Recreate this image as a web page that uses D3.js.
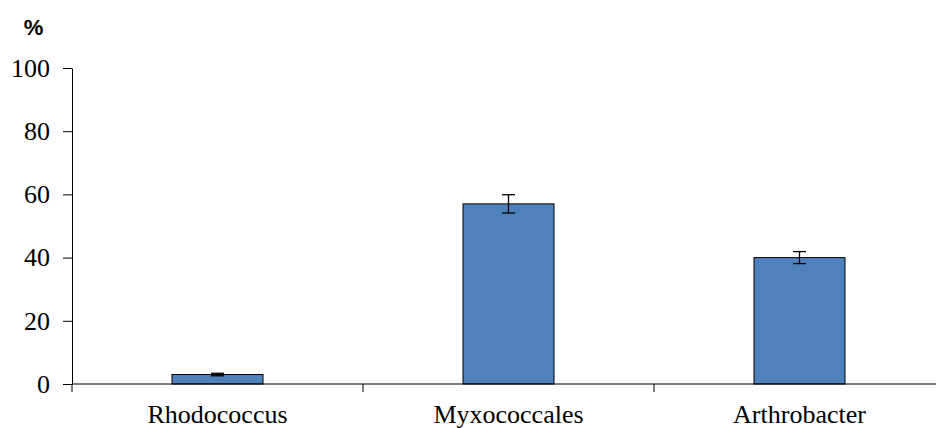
<!DOCTYPE html>
<html>
<head>
<meta charset="utf-8">
<script src="https://cdn.jsdelivr.net/npm/d3@7"></script>
<style>
  html, body { margin: 0; padding: 0; background: #fff; }
  svg { display: block; }
</style>
</head>
<body>
<svg id="chart" width="936" height="428"></svg>
<script>
// Relative abundance (%) with standard error
const categories = ["Rhodococcus", "Myxococcales", "Arthrobacter"];
const values = [3, 57, 40];
const errors = [0.4, 2.9, 1.9];
const yTicks = [0, 20, 40, 60, 80, 100];

const svg = d3.select("#chart");
const margin = { left: 72, top: 68, bottom: 384 };
const bandWidth = 291;
const serif = "'Liberation Serif', 'Times New Roman', serif";

const x = d3.scaleBand()
  .domain(categories)
  .range([margin.left, margin.left + bandWidth * categories.length])
  .paddingInner(0).paddingOuter(0);

const y = d3.scaleLinear().domain([0, 100]).range([margin.bottom, margin.top]);

const barW = 91;

// Bars
svg.append("g").selectAll("rect")
  .data(categories)
  .join("rect")
  .attr("x", d => x(d) + x.bandwidth() / 2 - barW / 2)
  .attr("y", (d, i) => y(values[i]))
  .attr("width", barW)
  .attr("height", (d, i) => y(0) - y(values[i]))
  .attr("fill", "#4f81bd")
  .attr("stroke", "#000")
  .attr("stroke-width", 1);

// Error bars
const eb = svg.append("g").attr("stroke", "#000").attr("stroke-width", 1.3);
categories.forEach((c, i) => {
  const cx = x(c) + x.bandwidth() / 2;
  const top = y(values[i] + errors[i]);
  const bot = y(values[i] - errors[i]);
  eb.append("line").attr("x1", cx).attr("x2", cx).attr("y1", top).attr("y2", bot);
  eb.append("line").attr("x1", cx - 6.5).attr("x2", cx + 6.5).attr("y1", top).attr("y2", top);
  eb.append("line").attr("x1", cx - 6.5).attr("x2", cx + 6.5).attr("y1", bot).attr("y2", bot);
});

// Y axis
const yAxis = d3.axisLeft(y).tickValues(yTicks).tickSize(9).tickSizeOuter(0).tickPadding(13);
const gy = svg.append("g").attr("transform", `translate(${margin.left},0)`).call(yAxis);
gy.select(".domain").attr("stroke", "#000");
gy.selectAll(".tick line").attr("stroke", "#000");
gy.selectAll("text")
  .attr("font-family", serif)
  .attr("font-size", 26)
  .attr("fill", "#000");

// X axis: ticks at category boundaries
const xAxisLine = svg.append("g");
xAxisLine.append("line")
  .attr("x1", margin.left).attr("x2", margin.left + bandWidth * categories.length)
  .attr("y1", y(0)).attr("y2", y(0))
  .attr("stroke", "#000").attr("stroke-width", 1);
const boundaries = categories.map(c => x(c)).concat([x(categories[categories.length - 1]) + x.bandwidth()]);
xAxisLine.selectAll("line.tick")
  .data(boundaries)
  .join("line")
  .attr("class", "tick")
  .attr("x1", d => d).attr("x2", d => d)
  .attr("y1", y(0)).attr("y2", y(0) + 8)
  .attr("stroke", "#000");

svg.append("g").selectAll("text")
  .data(categories)
  .join("text")
  .attr("x", d => x(d) + x.bandwidth() / 2)
  .attr("y", 423)
  .attr("text-anchor", "middle")
  .attr("font-family", serif)
  .attr("font-size", 26)
  .attr("fill", "#000")
  .text(d => d);

// Unit label
svg.append("text")
  .attr("x", 33.5).attr("y", 35)
  .attr("text-anchor", "middle")
  .attr("font-family", "'Liberation Sans', Arial, sans-serif")
  .attr("font-weight", "bold")
  .attr("font-size", 22)
  .attr("fill", "#000")
  .text("%");
</script>
</body>
</html>
